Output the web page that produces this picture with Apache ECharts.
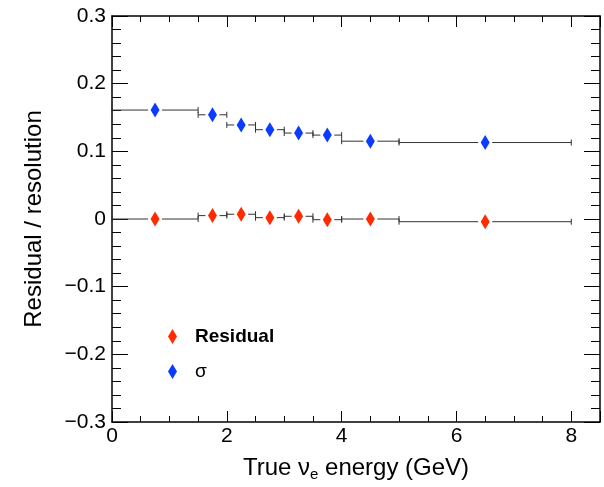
<!DOCTYPE html>
<html>
<head>
<meta charset="utf-8">
<script src="https://cdn.jsdelivr.net/npm/echarts@6/dist/echarts.min.js"></script>
<style>html,body{margin:0;padding:0;background:#fff;}#c{width:604px;height:487px;}</style>
</head>
<body>
<div id="c"></div>
<script>
// Data
var binLow  = [0, 1.5, 2, 2.5, 3, 3.5, 4, 5];
var binHigh = [1.5, 2, 2.5, 3, 3.5, 4, 5, 8];
var binCenter = [0.75, 1.75, 2.25, 2.75, 3.25, 3.75, 4.5, 6.5];
var sigmaValues = [0.161, 0.154, 0.139, 0.132, 0.127, 0.124, 0.115, 0.113];
var residualValues = [0.000, 0.005, 0.007, 0.002, 0.004, -0.001, 0.000, -0.004];
var seriesNames = ['Residual', 'σ'];
var xTitle = 'True ν{sub|e} energy (GeV)';
var yTitle = 'Residual / resolution';

var RED = '#ff2a00', BLUE = '#0a3cff';
var FONT = '"Liberation Sans", Arial, Helvetica, sans-serif';

function errData(vals) {
  return vals.map(function (v, i) { return [binLow[i], binHigh[i], v, binCenter[i]]; });
}
function renderErr(params, api) {
  var lo = api.coord([api.value(0), api.value(2)]);
  var hi = api.coord([api.value(1), api.value(2)]);
  var c = api.coord([api.value(3), api.value(2)]);
  var gap = 7, cap = 3;
  var st = { stroke: '#333', lineWidth: 1 };
  var ch = [];
  if (c[0] - gap > lo[0]) ch.push({ type: 'line', shape: { x1: lo[0], y1: lo[1], x2: c[0] - gap, y2: c[1] }, style: st });
  if (hi[0] > c[0] + gap) ch.push({ type: 'line', shape: { x1: c[0] + gap, y1: c[1], x2: hi[0], y2: hi[1] }, style: st });
  ch.push({ type: 'line', shape: { x1: lo[0], y1: lo[1] - cap, x2: lo[0], y2: lo[1] + cap }, style: st });
  ch.push({ type: 'line', shape: { x1: hi[0], y1: hi[1] - cap, x2: hi[0], y2: hi[1] + cap }, style: st });
  return { type: 'group', children: ch };
}
function pts(vals) { return vals.map(function (v, i) { return [binCenter[i], v]; }); }

var axisLineStyle = { onZero: false, lineStyle: { color: '#000', width: 1.5 } };
function yFmt(v) {
  if (Math.abs(v) < 1e-9) return '0';
  var s = v.toFixed(1);
  return s.replace('-', '\u2212');
}

var chart = echarts.init(document.getElementById('c'));
chart.setOption({
  animation: false,
  backgroundColor: '#fff',
  grid: { left: 112, right: 4, top: 16, bottom: 62 },
  xAxis: [{
    type: 'value', min: 0, max: 8.5, interval: 2,
    axisLine: axisLineStyle,
    axisTick: { inside: true, length: 11, lineStyle: { color: '#000' } },
    minorTick: { show: true, splitNumber: 4, length: 6, lineStyle: { color: '#000' } },
    splitLine: { show: false },
    axisLabel: { color: '#000', fontSize: 21, fontFamily: FONT, margin: 4, showMaxLabel: false },
    name: xTitle, nameLocation: 'middle', nameGap: 33,
    nameTextStyle: { color: '#000', fontSize: 24, fontFamily: FONT,
      rich: { sub: { fontSize: 15, fontFamily: FONT, color: '#000', verticalAlign: 'bottom', padding: [12, 0, 0, 0] } } }
  }, {
    type: 'value', min: 0, max: 8.5, interval: 2, position: 'top',
    axisLine: axisLineStyle,
    axisTick: { inside: true, length: 11, lineStyle: { color: '#000' } },
    minorTick: { show: true, splitNumber: 4, length: 6, lineStyle: { color: '#000' } },
    splitLine: { show: false }, axisLabel: { show: false }
  }],
  yAxis: [{
    type: 'value', min: -0.3, max: 0.3, interval: 0.1,
    axisLine: axisLineStyle,
    axisTick: { inside: true, length: 16, lineStyle: { color: '#000' } },
    minorTick: { show: true, splitNumber: 5, length: 9, lineStyle: { color: '#000' } },
    splitLine: { show: false },
    axisLabel: { color: '#000', fontSize: 21, fontFamily: FONT, margin: 6, formatter: yFmt },
    name: yTitle, nameLocation: 'middle', nameGap: 66,
    nameTextStyle: { color: '#000', fontSize: 24, fontFamily: FONT }
  }, {
    type: 'value', min: -0.3, max: 0.3, interval: 0.1, position: 'right',
    axisLine: axisLineStyle,
    axisTick: { inside: true, length: 16, lineStyle: { color: '#000' } },
    minorTick: { show: true, splitNumber: 5, length: 9, lineStyle: { color: '#000' } },
    splitLine: { show: false }, axisLabel: { show: false }
  }],
  legend: [{
    left: 163, top: 322, data: [seriesNames[0]], icon: 'diamond', itemWidth: 9, itemHeight: 15,
    textStyle: { color: '#000', fontSize: 19, fontWeight: 'bold', fontFamily: FONT, padding: [0, 0, 0, 13] }
  }, {
    left: 163, top: 357, data: [seriesNames[1]], icon: 'diamond', itemWidth: 9, itemHeight: 15,
    textStyle: { color: '#000', fontSize: 19, fontFamily: FONT, padding: [0, 0, 0, 13] }
  }],
  series: [
    { type: 'custom', name: 'resErr', renderItem: renderErr, data: errData(residualValues), encode: { x: [0, 1, 3], y: 2 }, silent: true, z: 1 },
    { type: 'custom', name: 'sigErr', renderItem: renderErr, data: errData(sigmaValues), encode: { x: [0, 1, 3], y: 2 }, silent: true, z: 1 },
    { type: 'scatter', name: seriesNames[0], data: pts(residualValues), symbol: 'diamond', symbolSize: [9, 15], itemStyle: { color: RED, opacity: 1 }, z: 3 },
    { type: 'scatter', name: seriesNames[1], data: pts(sigmaValues), symbol: 'diamond', symbolSize: [9, 15], itemStyle: { color: BLUE, opacity: 1 }, z: 3 }
  ]
});
</script>
</body>
</html>
